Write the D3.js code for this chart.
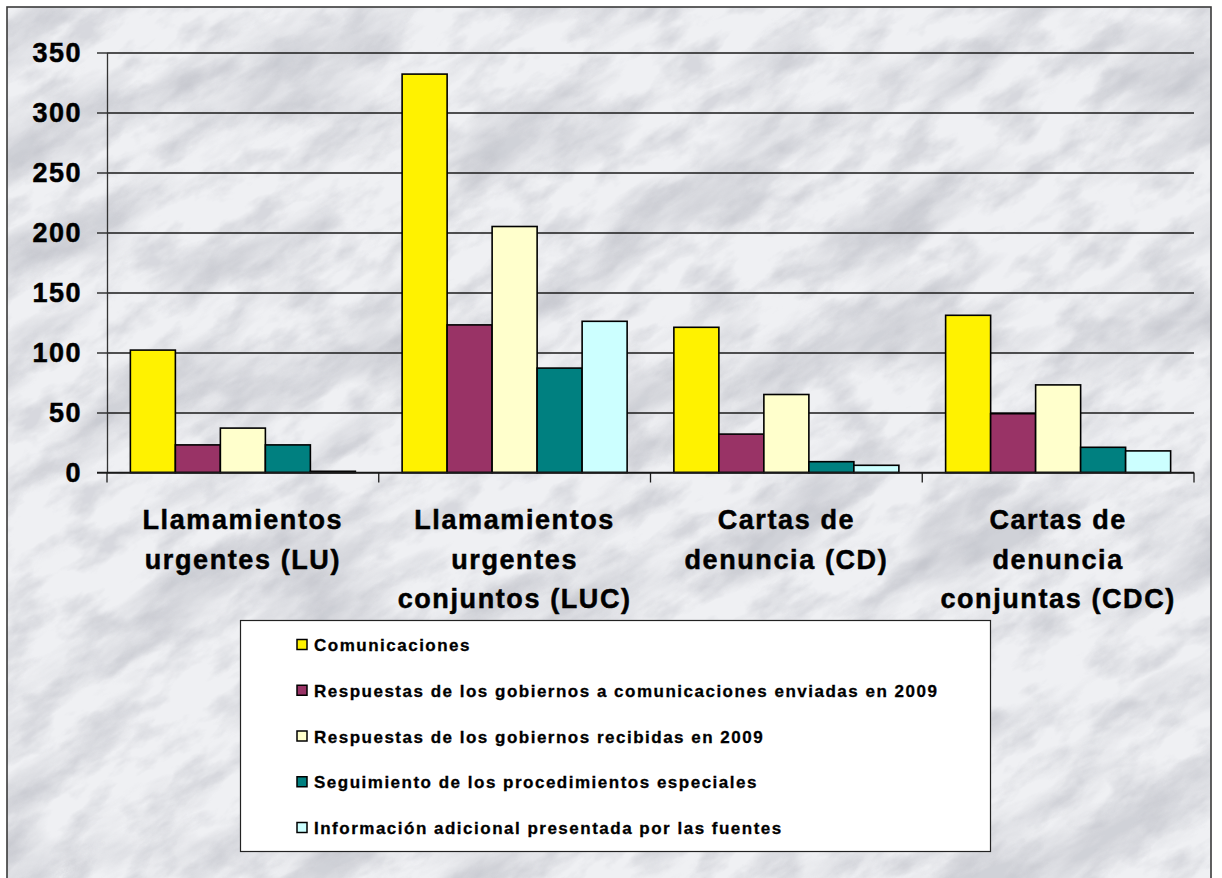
<!DOCTYPE html>
<html>
<head>
<meta charset="utf-8">
<script src="https://cdn.jsdelivr.net/npm/d3@7/dist/d3.min.js"></script>
<style>
  html, body { margin: 0; padding: 0; background: #ffffff; }
  svg { display: block; }
</style>
</head>
<body>
<svg id="chart" width="1222" height="878"></svg>
<script>
// ---- Data ----
const categories = [
  "Llamamientos urgentes (LU)",
  "Llamamientos urgentes conjuntos (LUC)",
  "Cartas de denuncia (CD)",
  "Cartas de denuncia conjuntas (CDC)"
];
const categoryLabelLines = [
  ["Llamamientos", "urgentes (LU)"],
  ["Llamamientos", "urgentes", "conjuntos (LUC)"],
  ["Cartas de", "denuncia (CD)"],
  ["Cartas de", "denuncia", "conjuntas (CDC)"]
];
const seriesNames = [
  "Comunicaciones",
  "Respuestas de los gobiernos a comunicaciones enviadas en 2009",
  "Respuestas de los gobiernos recibidas en 2009",
  "Seguimiento de los procedimientos especiales",
  "Información adicional presentada por las fuentes"
];
const comunicaciones = [102, 332, 121, 131];
const respuestasEnviadas = [23, 123, 32, 49];
const respuestasRecibidas = [37, 205, 65, 73];
const seguimiento = [23, 87, 9, 21];
const informacionAdicional = [1, 126, 6, 18];
const seriesValues = [comunicaciones, respuestasEnviadas, respuestasRecibidas, seguimiento, informacionAdicional];
const seriesColors = ["#FFF200", "#993366", "#FFFFCC", "#008080", "#CCFFFF"];
const yTicks = [0, 50, 100, 150, 200, 250, 300, 350];

// ---- Layout ----
const plot = { left: 107, right: 1194, top: 52.5, bottom: 472.5 };
const FONT = "Arial, 'Liberation Sans', sans-serif";

const svg = d3.select("#chart");
const defs = svg.append("defs");

// Marble texture filters
const f1 = defs.append("filter").attr("id", "marbleVeins")
  .attr("x", "0").attr("y", "0").attr("width", "100%").attr("height", "100%");
f1.append("feTurbulence").attr("type", "fractalNoise")
  .attr("baseFrequency", "0.005 0.016").attr("numOctaves", 6).attr("seed", 7).attr("result", "n");
f1.append("feColorMatrix").attr("type", "matrix")
  .attr("values", "0 0 0 0 0.48  0 0 0 0 0.49  0 0 0 0 0.54  -3.4 0 0 0 1.85");

const f2 = defs.append("filter").attr("id", "marbleFine")
  .attr("x", "0").attr("y", "0").attr("width", "100%").attr("height", "100%");
f2.append("feTurbulence").attr("type", "fractalNoise")
  .attr("baseFrequency", "0.02 0.04").attr("numOctaves", 5).attr("seed", 11).attr("result", "n");
f2.append("feColorMatrix").attr("type", "matrix")
  .attr("values", "0 0 0 0 0.50  0 0 0 0 0.51  0 0 0 0 0.56  -3.0 0 0 0 1.62");

defs.append("clipPath").attr("id", "frameClip")
  .append("rect").attr("x", 7).attr("y", 7).attr("width", 1204).attr("height", 880);

// Background frame
const bg = svg.append("g").attr("clip-path", "url(#frameClip)");
bg.append("rect").attr("x", 7).attr("y", 7).attr("width", 1204).attr("height", 880).attr("fill", "#eff0f3");
const rot = bg.append("g").attr("transform", "rotate(-32 611 439)");
rot.append("rect").attr("x", -500).attr("y", -500).attr("width", 2300).attr("height", 1900)
  .attr("filter", "url(#marbleVeins)").attr("opacity", 0.55);
rot.append("rect").attr("x", -500).attr("y", -500).attr("width", 2300).attr("height", 1900)
  .attr("filter", "url(#marbleFine)").attr("opacity", 0.45);
svg.append("rect").attr("x", 7).attr("y", 7).attr("width", 1204).attr("height", 900)
  .attr("fill", "none").attr("stroke", "#3a3a3a").attr("stroke-width", 1.6);

// ---- Scales ----
const y = d3.scaleLinear().domain([0, 350]).range([plot.bottom, plot.top]);
const x0 = d3.scaleBand().domain(categories).range([plot.left, plot.right]).paddingInner(0).paddingOuter(0);
const bw = x0.bandwidth();
const gap = bw * 0.172;
const x1 = d3.scaleBand().domain(seriesNames).range([gap / 2, bw - gap / 2]).padding(0);

// Gridlines
const g = svg.append("g");
g.append("g").attr("transform", `translate(${plot.left},0)`)
  .call(d3.axisLeft(y).tickValues(yTicks).tickSize(-(plot.right - plot.left)).tickFormat(""))
  .call(s => s.select(".domain").remove())
  .call(s => s.selectAll("line").attr("stroke", "#1a1a1a").attr("stroke-width", 1.3));

// Y axis with outer ticks and labels
g.append("g").attr("transform", `translate(${plot.left},0)`)
  .call(d3.axisLeft(y).tickValues(yTicks).tickSize(10).tickPadding(15).tickSizeOuter(0))
  .call(s => s.select(".domain").attr("stroke", "#333").attr("stroke-width", 1.3))
  .call(s => s.selectAll("line").attr("stroke", "#1a1a1a").attr("stroke-width", 1.3))
  .call(s => s.selectAll("text")
    .attr("font-family", FONT).attr("font-size", 27).attr("font-weight", "bold")
    .attr("letter-spacing", 1.5).attr("fill", "#000")
    .attr("stroke", "#000").attr("stroke-width", 0.5));

// Bars
const barG = svg.append("g");
categories.forEach((cat, ci) => {
  seriesNames.forEach((s, si) => {
    const v = seriesValues[si][ci];
    barG.append("rect")
      .attr("x", x0(cat) + x1(s))
      .attr("y", y(v))
      .attr("width", x1.bandwidth())
      .attr("height", y(0) - y(v))
      .attr("fill", seriesColors[si])
      .attr("stroke", "#000").attr("stroke-width", 1.6);
  });
});

// X axis
const xAxisG = svg.append("g").attr("transform", `translate(0,${plot.bottom})`);
xAxisG.append("line").attr("x1", plot.left - 10).attr("x2", plot.right)
  .attr("y1", 0).attr("y2", 0).attr("stroke", "#1a1a1a").attr("stroke-width", 1.4);
const catEdges = categories.map(c => x0(c)).concat([x0(categories[categories.length - 1]) + bw]);
xAxisG.selectAll("line.tick").data(catEdges).enter().append("line")
  .attr("class", "tick").attr("x1", d => d).attr("x2", d => d)
  .attr("y1", 0).attr("y2", 10).attr("stroke", "#1a1a1a").attr("stroke-width", 1.3);

// Category labels
categories.forEach((cat, ci) => {
  const t = svg.append("text")
    .attr("x", x0(cat) + bw / 2).attr("y", 529)
    .attr("text-anchor", "middle")
    .attr("font-family", FONT).attr("font-size", 27).attr("font-weight", "bold")
    .attr("letter-spacing", 1.6).attr("fill", "#000")
    .attr("stroke", "#000").attr("stroke-width", 0.5);
  categoryLabelLines[ci].forEach((line, li) => {
    t.append("tspan").attr("x", x0(cat) + bw / 2).attr("dy", li === 0 ? 0 : 39.5).text(line);
  });
});

// Legend
const leg = svg.append("g");
leg.append("rect").attr("x", 240.5).attr("y", 620.5).attr("width", 750).attr("height", 231)
  .attr("fill", "#ffffff").attr("stroke", "#222").attr("stroke-width", 1.2);
seriesNames.forEach((s, i) => {
  const cy = 644.5 + i * 45.75;
  leg.append("rect").attr("x", 297).attr("y", cy - 5).attr("width", 10).attr("height", 10)
    .attr("fill", seriesColors[i]).attr("stroke", "#000").attr("stroke-width", 1.5);
  leg.append("text").attr("x", 314).attr("y", cy + 6.5)
    .attr("font-family", FONT).attr("font-size", 17).attr("font-weight", "bold")
    .attr("letter-spacing", 1.5).attr("fill", "#000")
    .attr("stroke", "#000").attr("stroke-width", 0.3).text(s);
});
</script>
</body>
</html>
